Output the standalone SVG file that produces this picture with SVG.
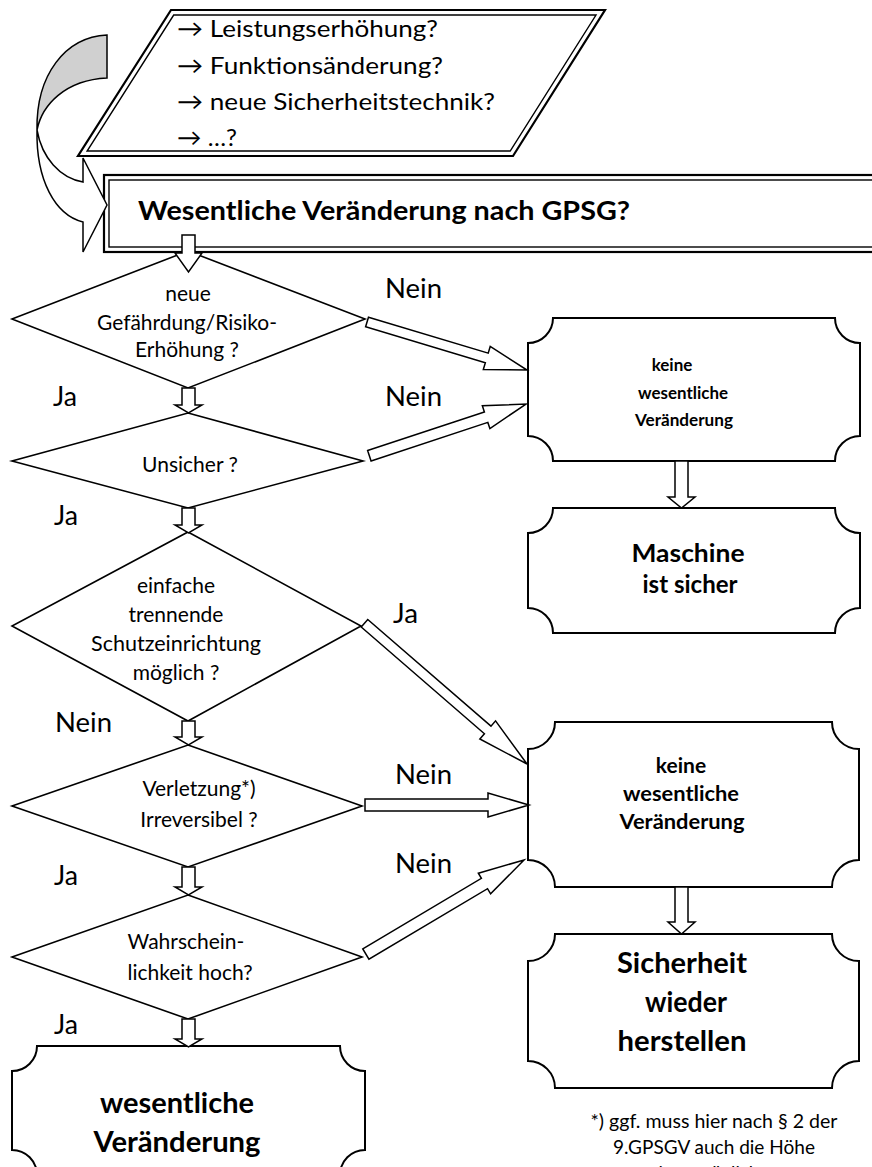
<svg xmlns="http://www.w3.org/2000/svg" width="872" height="1167" viewBox="0 0 872 1167">
<style>
.s{fill:#fff;stroke:#000;stroke-width:1.6;stroke-linejoin:miter}
.o{fill:#fff;stroke:#000;stroke-width:2.2}
.i{fill:none;stroke:#000;stroke-width:1.4}
.p{fill:#fff;stroke:#000;stroke-width:2}
.a{fill:#fff;stroke:#000;stroke-width:1.5;stroke-linejoin:miter}
.t{font-family:Lato,"Open Sans",sans-serif;fill:#000}
.d{font-size:21px;text-anchor:middle}
.l{font-size:26px}
.m{text-anchor:middle}
.b{font-weight:bold;text-anchor:middle}
</style>
<rect width="872" height="1167" fill="#fff"/>

<g id="input">
<polygon class="o" points="171,10 605,10 513,156 78,156"/>
<polygon class="i" points="173.7,15 596,15 510.2,151 87.1,151"/>
<text class="t" font-size="23.5" x="177" y="37" textLength="261" lengthAdjust="spacingAndGlyphs">→ Leistungserhöhung?</text>
<text class="t" font-size="23.5" x="177" y="74" textLength="266" lengthAdjust="spacingAndGlyphs">→ Funktionsänderung?</text>
<text class="t" font-size="23.5" x="177" y="110" textLength="318" lengthAdjust="spacingAndGlyphs">→ neue Sicherheitstechnik?</text>
<text class="t" font-size="23.5" x="177" y="146" textLength="60" lengthAdjust="spacingAndGlyphs">→ …?</text>
</g>

<g id="title">
<rect class="o" x="104" y="175" width="800" height="77"/>
<rect class="i" x="109" y="180" width="790" height="67"/>
<text class="t" font-size="27" font-weight="bold" x="138" y="220" textLength="492" lengthAdjust="spacingAndGlyphs">Wesentliche Veränderung nach GPSG?</text>
</g>

<g id="q1">
<polygon class="s" points="188,251 365,319 188,388 12,319"/>
<text class="t d" x="188" y="301">neue</text>
<text class="t d" x="187" y="330" textLength="180" lengthAdjust="spacingAndGlyphs">Gefährdung/Risiko-</text>
<text class="t d" x="187" y="357">Erhöhung ?</text>
</g>

<g id="q2">
<polygon class="s" points="188,413 363,461 188,508 12,461"/>
<text class="t d" x="190" y="472">Unsicher ?</text>
</g>

<g id="q3">
<polygon class="s" points="188,532 361,626 188,721 12,626"/>
<text class="t d" x="176" y="593">einfache</text>
<text class="t d" x="176" y="622">trennende</text>
<text class="t d" x="176" y="651" textLength="170" lengthAdjust="spacingAndGlyphs">Schutzeinrichtung</text>
<text class="t d" x="176" y="680">möglich ?</text>
</g>

<g id="q4">
<polygon class="s" points="188,745 362,806 188,867 12,806"/>
<text class="t d" x="199" y="796">Verletzung*)</text>
<text class="t d" x="199" y="827">Irreversibel ?</text>
</g>

<g id="q5">
<polygon class="s" points="188,895 362,957 188,1019 12,957"/>
<text class="t d" x="186" y="949">Wahrschein-</text>
<text class="t d" x="190" y="980">lichkeit hoch?</text>
</g>

<g id="r1">
<path class="p" d="M553,318 H835 A25,25 0 0 0 860,343 V436 A25,25 0 0 0 835,461 H553 A25,25 0 0 0 528,436 V343 A25,25 0 0 0 553,318 Z"/>
<text class="t b" font-size="17" x="672" y="371">keine</text>
<text class="t b" font-size="17" x="683" y="399" textLength="90" lengthAdjust="spacingAndGlyphs">wesentliche</text>
<text class="t b" font-size="17" x="684" y="426" textLength="98" lengthAdjust="spacingAndGlyphs">Veränderung</text>
</g>

<g id="r2">
<path class="p" d="M553,508 H835 A25,25 0 0 0 860,533 V608 A25,25 0 0 0 835,633 H553 A25,25 0 0 0 528,608 V533 A25,25 0 0 0 553,508 Z"/>
<text class="t b" font-size="25" x="688" y="562" textLength="113" lengthAdjust="spacingAndGlyphs">Maschine</text>
<text class="t b" font-size="25" x="690" y="593" textLength="95" lengthAdjust="spacingAndGlyphs">ist sicher</text>
</g>

<g id="r3">
<path class="p" d="M555,722 H832 A27,27 0 0 0 859,749 V860 A27,27 0 0 0 832,887 H555 A27,27 0 0 0 528,860 V749 A27,27 0 0 0 555,722 Z"/>
<text class="t b" font-size="21" x="681" y="773">keine</text>
<text class="t b" font-size="21" x="681" y="801" textLength="116" lengthAdjust="spacingAndGlyphs">wesentliche</text>
<text class="t b" font-size="21" x="682" y="829" textLength="125" lengthAdjust="spacingAndGlyphs">Veränderung</text>
</g>

<g id="r4">
<path class="p" d="M555,934 H832 A27,27 0 0 0 859,961 V1061 A27,27 0 0 0 832,1088 H555 A27,27 0 0 0 528,1061 V961 A27,27 0 0 0 555,934 Z"/>
<text class="t b" font-size="28" x="682" y="973" textLength="130" lengthAdjust="spacingAndGlyphs">Sicherheit</text>
<text class="t b" font-size="28" x="686" y="1012" textLength="82" lengthAdjust="spacingAndGlyphs">wieder</text>
<text class="t b" font-size="28" x="682" y="1051" textLength="129" lengthAdjust="spacingAndGlyphs">herstellen</text>
</g>

<g id="result">
<path class="p" d="M37,1046 H340 A25,25 0 0 0 365,1071 V1150 A25,25 0 0 0 340,1175 H37 A25,25 0 0 0 12,1150 V1071 A25,25 0 0 0 37,1046 Z"/>
<text class="t b" font-size="28" x="177" y="1113" textLength="154" lengthAdjust="spacingAndGlyphs">wesentliche</text>
<text class="t b" font-size="28" x="177" y="1152" textLength="167" lengthAdjust="spacingAndGlyphs">Veränderung</text>
</g>

<g id="footnote">
<text class="t m" font-size="18.5" x="714" y="1128" textLength="247" lengthAdjust="spacingAndGlyphs">*) ggf. muss hier nach § 2 der</text>
<text class="t m" font-size="18.5" x="714" y="1154" textLength="202" lengthAdjust="spacingAndGlyphs">9.GPSGV auch die Höhe</text>
<text class="t m" font-size="18.5" x="714" y="1180">eines möglichen</text>
</g>

<g id="connectors">
<path d="M107,35 C65,37 36,75 37,130 C42,105 65,80 107,78 Z" fill="#d0d0d0" stroke="#000" stroke-width="1.5"/>
<path class="a" d="M37,130 C42,158 60,178 83,182 L83,158 L107,205 L83,252 L83,222 C55,215 36,180 37,130 Z"/>
<polygon class="a" points="182,235 195,235 195,253 202,253 188.5,272 175,253 182,253"/>
<polygon class="a" points="182,388 195,388 195,405 202,405 188.5,413 175,405 182,405"/>
<polygon class="a" points="182,508 195,508 195,525 202,525 188.5,533 175,525 182,525"/>
<polygon class="a" points="182,721 195,721 195,737 202,737 188.5,745 175,737 182,737"/>
<polygon class="a" points="182,867 195,867 195,887 202,887 188.5,895 175,887 182,887"/>
<polygon class="a" points="182,1019 195,1019 195,1039 202,1039 188.5,1047 175,1039 182,1039"/>
<polygon class="a" points="675,461 688,461 688,497 695,497 681.5,508 668,497 675,497"/>
<polygon class="a" points="675,887 688,887 688,922 695,922 681.5,934 668,922 675,922"/>
<polygon class="a" transform="translate(527,370) rotate(16.7)" points="-167,-5 -42,-5 -42,-12 0,0 -42,12 -42,5 -167,5"/>
<polygon class="a" transform="translate(526,404) rotate(-18.3)" points="-165,-5.5 -42,-5.5 -42,-12 0,0 -42,12 -42,5.5 -165,5.5"/>
<polygon class="a" transform="translate(527,764) rotate(40.9)" points="-215,-5 -52,-5 -52,-12 0,0 -52,12 -52,5 -215,5"/>
<polygon class="a" transform="translate(529,805)" points="-164,-6 -41,-6 -41,-12 0,0 -41,12 -41,6 -164,6"/>
<polygon class="a" transform="translate(524,860) rotate(-30.75)" points="-184,-6 -46,-6 -46,-12 0,0 -46,12 -46,6 -184,6"/>
</g>

<g id="labels">
<text class="t l" x="385" y="298" textLength="57" lengthAdjust="spacingAndGlyphs">Nein</text>
<text class="t l" x="53" y="406" textLength="24" lengthAdjust="spacingAndGlyphs">Ja</text>
<text class="t l" x="385" y="406" textLength="57" lengthAdjust="spacingAndGlyphs">Nein</text>
<text class="t l" x="54" y="525" textLength="24" lengthAdjust="spacingAndGlyphs">Ja</text>
<text class="t l" x="393" y="623" textLength="25" lengthAdjust="spacingAndGlyphs">Ja</text>
<text class="t l" x="55" y="732" textLength="57" lengthAdjust="spacingAndGlyphs">Nein</text>
<text class="t l" x="395" y="784" textLength="57" lengthAdjust="spacingAndGlyphs">Nein</text>
<text class="t l" x="54" y="885" textLength="24" lengthAdjust="spacingAndGlyphs">Ja</text>
<text class="t l" x="395" y="873" textLength="57" lengthAdjust="spacingAndGlyphs">Nein</text>
<text class="t l" x="54" y="1034" textLength="24" lengthAdjust="spacingAndGlyphs">Ja</text>
</g>
</svg>
